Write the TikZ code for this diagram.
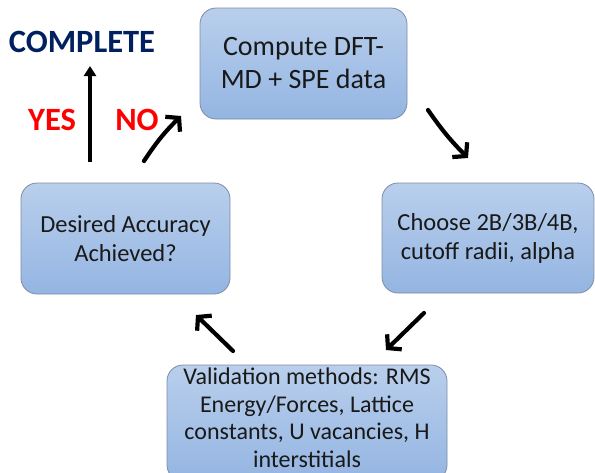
\documentclass[tikz,border=0pt]{standalone}
\usepackage{fontspec}
\setmainfont{Carlito}
\usetikzlibrary{arrows.meta}
\definecolor{boxtop}{RGB}{185,207,236}
\definecolor{boxbot}{RGB}{148,181,226}
\definecolor{boxline}{RGB}{125,140,165}
\definecolor{navy}{RGB}{0,32,96}
\definecolor{yesred}{RGB}{255,0,0}
\begin{document}
\begin{tikzpicture}[x=1pt,y=-1pt,
  box/.style={draw=boxline, line width=0.8pt, rounded corners=16pt,
    top color=boxtop, bottom color=boxbot, align=center, inner sep=0pt,
    text=black!90},
  arr/.style={line width=4.2pt, line cap=round, -{Straight Barb[length=9pt,width=21pt]}},
  lbl/.style={font=\bfseries\fontsize{32.5}{36}\selectfont, inner sep=0pt}
]
\useasboundingbox (0,0) rectangle (595,472);
\node[box, minimum width=207pt, minimum height=111pt, font=\fontsize{28}{33}\selectfont]
  (dft) at (303.5,63.5) {Compute DFT-\\MD + SPE data};
\node[box, minimum width=212pt, minimum height=110pt, font=\fontsize{24.5}{29}\selectfont]
  (choose) at (488,238) {Choose 2B/3B/4B,\\cutoff radii, alpha};
\node[box, minimum width=280pt, minimum height=116pt, font=\fontsize{24}{27.5}\selectfont]
  (valid) at (307,423) {};
\node[font=\fontsize{24}{27.5}\selectfont, align=center, inner sep=0pt, text=black!90]
  (validtext) at (307,417.5) {Validation methods: RMS\\Energy/Forces, Lattice\\constants, U vacancies, H\\interstitials};
\node[box, minimum width=209pt, minimum height=111pt, font=\fontsize{24.5}{29}\selectfont]
  (acc) at (125.5,238.5) {Desired Accuracy\\Achieved?};
\node[lbl, text=navy] (complete) at (82,42) {COMPLETE};
\node[lbl, text=yesred] (yes) at (52,120) {YES};
\node[lbl, text=yesred] (no) at (137,120) {NO};
\coordinate (a1s) at (428,110);
\coordinate (a1e) at (468,158);
\coordinate (a2s) at (424,313);
\coordinate (a2e) at (386,350);
\coordinate (a3s) at (233,351);
\coordinate (a3e) at (196,315);
\coordinate (a4s) at (90,162);
\coordinate (a4e) at (90,66);
\coordinate (a5s) at (144,161);
\coordinate (a5e) at (181,116);
\draw[arr] (a1s) to[bend right=5] (a1e);
\draw[arr] (a2s) -- (a2e);
\draw[arr] (a3s) -- (a3e);
\draw[line width=3.6pt, -{Triangle[length=10pt,width=12pt]}] (a4s) -- (a4e);
\draw[arr] (a5s) to[bend left=6] (a5e);
\end{tikzpicture}
\end{document}
